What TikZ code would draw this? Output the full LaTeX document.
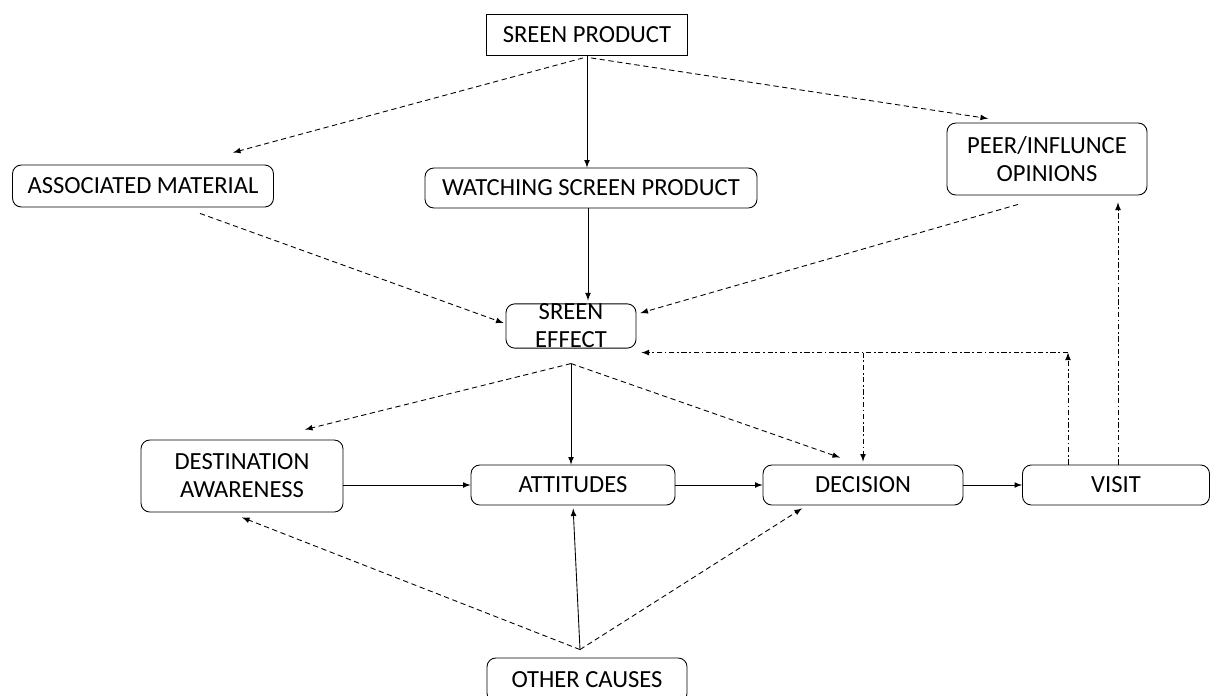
\documentclass[tikz,border=0pt]{standalone}
\usepackage{fontspec}
\setmainfont{Carlito}
\usetikzlibrary{calc}

\begin{document}
\begin{tikzpicture}[->,>=latex,x=0.2mm,y=-0.2mm,line width=0.5pt]
  \def\fs{\fontsize{14}{16}\selectfont}

\tikzstyle{box}=[draw,rounded corners=5pt,align=center,inner sep=0pt,font=\fs]
\tikzstyle{dsh}=[densely dashed]
\tikzstyle{ddot}=[dash pattern=on 3pt off 1.5pt on 1pt off 1.5pt]
\useasboundingbox (0,0) rectangle (1223,695);
\node[box][rounded corners=0pt,minimum width=40.2mm,minimum height=8.2mm] (SP) at (587,35) {SREEN PRODUCT};
\node[box][minimum width=52.2mm,minimum height=8.4mm] (AM) at (143,186) {ASSOCIATED MATERIAL};
\node[box][minimum width=66.4mm,minimum height=8mm] (WS) at (591,188) {WATCHING SCREEN PRODUCT};
\node[box][minimum width=40mm,minimum height=14.4mm] (PO) at (1047,159) {PEER/INFLUNCE\\OPINIONS};
\node[box][minimum width=26mm,minimum height=8.8mm] (SE) at (571,326) {SREEN\\EFFECT};
\node[box][minimum width=40.4mm,minimum height=14.4mm] (DA) at (242,476) {DESTINATION\\AWARENESS};
\node[box][minimum width=40.8mm,minimum height=8mm] (AT) at (573,485) {ATTITUDES};
\node[box][minimum width=40mm,minimum height=8mm] (DE) at (863,485) {DECISION};
\node[box][minimum width=37.4mm,minimum height=8mm] (VI) at (1116,485) {VISIT};
\node[box][minimum width=40mm,minimum height=8.8mm] (OC) at (587,680) {OTHER CAUSES};
\draw[dsh] ($(SP.south)+(-4,2)$) -- ($(AM.north)+(90,-12)$);
\draw (SP.south) -- (SP.south |- WS.north);
\draw[dsh] ($(SP.south)+(4,2)$) -- ($(PO.north)+(-59,-4)$);
\draw[dsh] ($(AM.south)+(57,6)$) -- ($(SE.west)+(-2,-3)$);
\draw ($(WS.south)+(-3,0)$) -- ($(SE.north)+(17,-3)$);
\draw[dsh] ($(PO.south)+(-29,9)$) -- ($(SE.east)+(4,-13)$);
\coordinate (SEout) at ($(SE.south)+(0,15)$);
\draw[dsh] (SEout) -- ($(DA.north)+(63,-10)$);
\draw (SEout) -- (SEout |- AT.north);
\draw[dsh] (SEout) -- ($(DE.north)+(-23,-7)$);
\draw (DA.east |- AT.west) -- (AT.west);
\draw (AT.east) -- (DE.west);
\draw (DE.east) -- (VI.west);
\draw[ddot,shorten >=1.4mm] ($(VI.north)+(2,0)$) -- ($(VI.north |- PO.south)+(2,0)$);
\coordinate (FB) at ($(VI.north)+(-48,-112)$);
\draw[ddot] ($(VI.north)+(-48,0)$) -- (FB);
\draw[ddot,shorten >=1mm] (FB) -- (FB -| SE.east);
\draw[ddot,shorten >=0.6mm] (FB -| DE.north) -- (DE.north);
\coordinate (OCin) at ($(OC.north)+(-7,-8)$);
\draw[dsh] (OCin) -- ($(DA.south)+(0,5)$);
\draw[shorten >=0.6mm] (OCin) -- (AT.south);
\draw[dsh] (OCin) -- ($(DE.south)+(-61,3)$);
\end{tikzpicture}
\end{document}
